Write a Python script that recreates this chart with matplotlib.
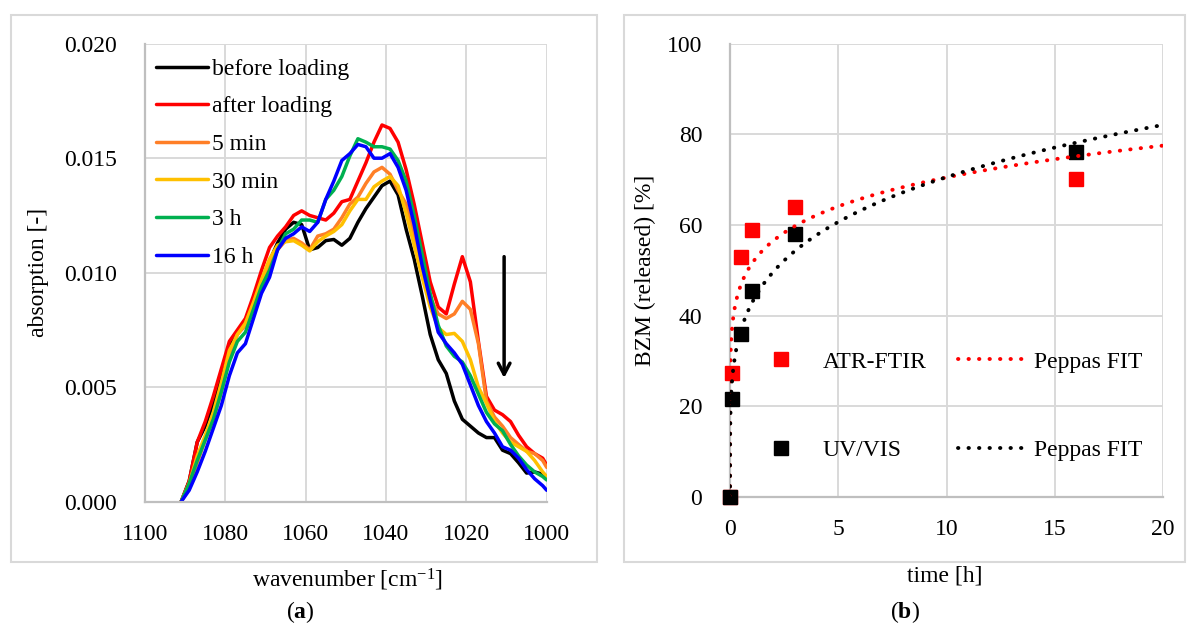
import numpy as np
import matplotlib
matplotlib.use('Agg')
import matplotlib.pyplot as plt
from matplotlib.patches import Rectangle

plt.rcParams['font.family'] = ['Liberation Serif', 'DejaVu Serif']
plt.rcParams['mathtext.fontset'] = 'custom'
plt.rcParams['mathtext.rm'] = 'Liberation Serif'
plt.rcParams['mathtext.bf'] = 'Liberation Serif:bold'
plt.rcParams['mathtext.it'] = 'Liberation Serif:italic'

# ---------------- data: panel (a) ----------------
wavenumber = [1091, 1089, 1087, 1085, 1083, 1081, 1079, 1077, 1075, 1073,
              1071, 1069, 1067, 1065, 1063, 1061, 1059, 1057, 1055, 1053,
              1051, 1049, 1047, 1045, 1043, 1041, 1039, 1037, 1035, 1033,
              1031, 1029, 1027, 1025, 1023, 1021, 1019, 1017, 1015, 1013,
              1011, 1009, 1007, 1005, 1003, 1001, 1000]

# absorption values in units of 1e-3
before_loading = [0.0, 0.9, 2.6, 3.3, 4.3, 5.6, 6.8, 7.4, 7.9, 8.8,
                  9.4, 10.5, 11.3, 11.9, 12.2, 12.1, 11.0, 11.1, 11.4, 11.45,
                  11.2, 11.5, 12.2, 12.8, 13.3, 13.8, 14.0, 13.4, 11.9, 10.6,
                  9.0, 7.3, 6.2, 5.6, 4.4, 3.6, 3.3, 3.0, 2.8, 2.8,
                  2.25, 2.1, 1.7, 1.25, 1.3, 1.2, 1.1]
after_loading = [0.0, 0.9, 2.6, 3.5, 4.6, 5.8, 7.0, 7.5, 8.0, 9.0,
                 10.1, 11.1, 11.6, 12.0, 12.5, 12.7, 12.5, 12.4, 12.3, 12.6,
                 13.1, 13.2, 14.0, 14.8, 15.7, 16.45, 16.3, 15.7, 14.5, 13.0,
                 11.3, 9.6, 8.5, 8.2, 9.5, 10.7, 9.6, 7.0, 4.6, 4.0,
                 3.8, 3.5, 2.9, 2.4, 2.1, 1.9, 1.6]
min_5 = [0.0, 0.6, 1.7, 2.7, 3.6, 4.8, 6.3, 7.3, 7.7, 8.6,
         9.6, 10.4, 11.0, 11.4, 11.5, 11.3, 11.0, 11.6, 11.7, 11.9,
         12.4, 13.0, 13.3, 13.9, 14.4, 14.6, 14.3, 13.6, 13.0, 11.6,
         9.9, 8.9, 8.2, 8.0, 8.2, 8.75, 8.4, 6.9, 4.4, 3.7,
         3.3, 2.8, 2.5, 2.2, 2.1, 1.8, 1.5]
min_30 = [0.0, 0.8, 2.0, 2.9, 3.9, 5.2, 6.6, 7.3, 7.8, 8.7,
          9.7, 10.6, 11.2, 11.35, 11.4, 11.2, 10.95, 11.35, 11.6, 11.8,
          12.1, 12.7, 13.2, 13.2, 13.75, 14.0, 14.2, 13.8, 12.6, 11.2,
          9.8, 8.5, 7.6, 7.3, 7.35, 7.0, 6.2, 5.0, 4.3, 3.5,
          3.0, 2.6, 2.4, 2.2, 1.8, 1.3, 1.1]
h_3 = [0.0, 0.8, 1.8, 2.7, 3.6, 4.8, 6.1, 7.0, 7.4, 8.4,
       9.4, 10.1, 11.0, 11.7, 11.9, 12.3, 12.3, 12.2, 13.2, 13.6,
       14.2, 15.1, 15.85, 15.7, 15.5, 15.5, 15.4, 14.9, 14.0, 12.5,
       10.8, 9.1, 7.7, 6.8, 6.35, 6.1, 5.5, 4.7, 3.9, 3.4,
       3.1, 2.5, 2.0, 1.6, 1.3, 1.1, 0.95]
h_16 = [0.0, 0.5, 1.3, 2.2, 3.2, 4.2, 5.5, 6.5, 6.9, 8.0,
        9.1, 9.8, 11.0, 11.5, 11.7, 12.0, 11.8, 12.2, 13.2, 14.0,
        14.9, 15.2, 15.6, 15.5, 15.0, 15.0, 15.2, 14.6, 13.6, 12.1,
        10.3, 8.8, 7.4, 6.9, 6.5, 6.0, 5.1, 4.2, 3.5, 3.0,
        2.4, 2.25, 1.9, 1.4, 1.0, 0.7, 0.5]

spectra_labels = ['before loading', 'after loading', '5 min', '30 min', '3 h', '16 h']
spectra_colors = ['#000000', '#FF0000', '#FF7F27', '#FFC000', '#00B050', '#0000FF']

arrow_wn = 1010.6
arrow_top, arrow_tip = 0.0107, 0.0054

# ---------------- data: panel (b) ----------------
time_atr = [0, 0.083, 0.5, 1, 3, 16]
release_atr = [0, 27.4, 53.0, 58.8, 63.9, 70.2]
time_uv = [0, 0.083, 0.5, 1, 3, 16]
release_uv = [0, 21.6, 36.0, 45.5, 58.0, 76.0]
# Peppas fit parameters  M = k * t^n
peppas_atr = (51.4, 0.137)
peppas_uv = (42.7, 0.218)

# ---------------- figure ----------------
W, H = 1195, 641
fig = plt.figure(figsize=(W / 100, H / 100), dpi=100)
FS = 17
GRID = '#D9D9D9'
AX = '#BFBFBF'

def fx(px):
    return px / W

def fy(py):
    return 1 - py / H

# panel frames
fig.patches.append(Rectangle((fx(11), fy(562)), fx(597 - 11), (562 - 15) / H,
                             transform=fig.transFigure, fill=False,
                             edgecolor=GRID, lw=1.5))
fig.patches.append(Rectangle((fx(624), fy(562)), fx(1185 - 624), (562 - 15) / H,
                             transform=fig.transFigure, fill=False,
                             edgecolor=GRID, lw=1.5))

# ---- panel (a)
axL = fig.add_axes([fx(145), fy(501.7), fx(546.7 - 145), (501.7 - 43.7) / H])
wn = np.array(wavenumber)
series = [before_loading, after_loading, min_5, min_30, h_3, h_16]
for vals, lab, col in zip(series, spectra_labels, spectra_colors):
    axL.plot(wn, np.array(vals) * 1e-3, color=col, lw=2.5, label=lab,
             solid_joinstyle='round', solid_capstyle='round')
axL.set_xlim(1100, 1000)
axL.set_ylim(0, 0.020)
axL.set_xticks([1100, 1080, 1060, 1040, 1020, 1000])
axL.set_yticks([0.000, 0.005, 0.010, 0.015, 0.020])
axL.set_yticklabels(['0.000', '0.005', '0.010', '0.015', '0.020'])
axL.annotate('', xy=(arrow_wn, arrow_tip), xytext=(arrow_wn, arrow_top),
             arrowprops=dict(arrowstyle='->,head_length=0.8,head_width=0.42',
                             lw=2.5, color='black', shrinkA=0, shrinkB=0))
leg = axL.legend(loc='upper left', bbox_to_anchor=(-0.01, 1.0), frameon=False,
                 fontsize=FS, handlelength=2.2, handletextpad=0.2,
                 labelspacing=0.68, borderaxespad=0, borderpad=0.62)
axL.set_xlabel('wavenumber [cm$^{-1}$]', fontsize=FS)
axL.set_ylabel('absorption [-]', fontsize=FS)

# ---- panel (b)
axR = fig.add_axes([fx(730), fy(497), fx(1163 - 730), (497 - 43.5) / H])
t_fit = np.concatenate([[0.0], np.geomspace(1e-5, 20, 400)])
h1, = axR.plot(time_atr, release_atr, 's', color='#FF0000', ms=10,
               clip_on=False, zorder=3, label='ATR-FTIR')
h2, = axR.plot(time_uv, release_uv, 's', color='#000000', ms=10,
               clip_on=False, zorder=4, label='UV/VIS')
h3, = axR.plot(t_fit, peppas_atr[0] * t_fit ** peppas_atr[1], color='#FF0000',
               lw=2.8, linestyle=(0, (0.1, 2.6)), dash_capstyle='round',
               zorder=5, label='Peppas FIT')
h4, = axR.plot(t_fit, peppas_uv[0] * t_fit ** peppas_uv[1], color='#000000',
               lw=2.8, linestyle=(0, (0.1, 2.6)), dash_capstyle='round',
               zorder=5, label='Peppas FIT')
axR.set_xlim(0, 20)
axR.set_ylim(0, 100)
axR.set_xticks([0, 5, 10, 15, 20])
axR.set_yticks([0, 20, 40, 60, 80, 100])
axR.legend(handles=[h1, h2, h3, h4], ncol=2, loc='center',
           bbox_to_anchor=(0.495, 0.2), frameon=False, fontsize=FS,
           handlelength=2.9, handletextpad=0.3, columnspacing=1.35,
           labelspacing=2.85)
axR.set_xlabel('time [h]', fontsize=FS)
axR.set_ylabel('BZM (released) [%]', fontsize=FS)

for ax in (axL, axR):
    ax.grid(True, color=GRID, lw=1.4)
    ax.set_axisbelow(True)
    for s in ('top', 'right'):
        ax.spines[s].set_visible(False)
    for s in ('left', 'bottom'):
        ax.spines[s].set_color(AX)
        ax.spines[s].set_linewidth(1.6)
    ax.tick_params(length=0, labelsize=FS)
    ax.tick_params(axis='y', pad=20)
    ax.tick_params(axis='x', pad=16)
    ax.yaxis.label.set_va('center')
    ax.xaxis.label.set_va('center')

axL.yaxis.set_label_coords(-0.266, 0.5)
axL.xaxis.set_label_coords(0.505, -0.171)
axR.yaxis.set_label_coords(-0.196, 0.5)
axR.xaxis.set_label_coords(0.4965, -0.174)

fig.text(fx(300), fy(612), r'($\mathbf{a}$)', ha='center', va='center', fontsize=FS)
fig.text(fx(905), fy(612), r'($\mathbf{b}$)', ha='center', va='center', fontsize=FS)

fig.savefig('out.png', dpi=100)
